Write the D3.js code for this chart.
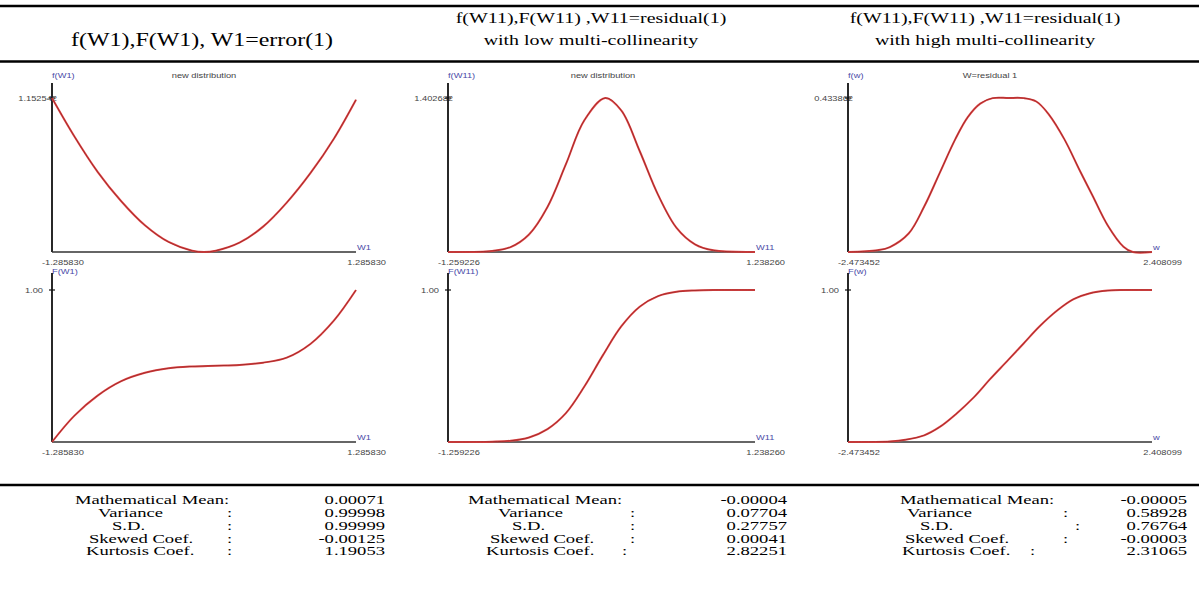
<!DOCTYPE html>
<html>
<head>
<meta charset="utf-8">
<script src="https://cdn.jsdelivr.net/npm/d3@7"></script>
<style>
  body { margin: 0; background: #fff; }
  svg { display: block; }
</style>
</head>
<body>
<svg id="chart" width="1199" height="593"></svg>
<script>
// data
const headerLines = [
  ['f(W1),F(W1), W1=error(1)'],
  ['f(W11),F(W11) ,W11=residual(1)', 'with low multi-collinearity'],
  ['f(W11),F(W11) ,W11=residual(1)', 'with high multi-collinearity']
];
const titles = ['new distribution', 'new distribution', 'W=residual 1'];
const densityNames = ['f(W1)', 'f(W11)', 'f(w)'];
const cdfNames = ['F(W1)', 'F(W11)', 'F(w)'];
const varNames = ['W1', 'W11', 'w'];
const xMin = [-1.285830, -1.259226, -2.473452];
const xMax = [1.285830, 1.238260, 2.408099];
const xMinLabels = ['-1.285830', '-1.259226', '-2.473452'];
const xMaxLabels = ['1.285830', '1.238260', '2.408099'];
const fTop = [1.152542, 1.402682, 0.433862];
const fTopLabels = ['1.152542', '1.402682', '0.433862'];
const cdfTop = 1;
const cdfTopLabel = '1.00';

// density curves f
const f1X = [-1.28583, -1.1, -0.9, -0.7, -0.5, -0.3, -0.1, 0, 0.1, 0.3, 0.5, 0.7, 0.9, 1.1, 1.28583];
const f1Y = [1.1525, 0.87, 0.60, 0.38, 0.20, 0.075, 0.01, 0, 0.01, 0.07, 0.19, 0.37, 0.59, 0.85, 1.14];
const f2X = [-1.259226, -0.9, -0.75, -0.6, -0.45, -0.3, -0.15, 0.02, 0.15, 0.3, 0.45, 0.6, 0.75, 0.9, 1.23826];
const f2Y = [0, 0.01, 0.045, 0.16, 0.41, 0.80, 1.20, 1.4027, 1.29, 0.92, 0.52, 0.22, 0.07, 0.015, 0];
const f3X = [-2.473452, -2.0, -1.8, -1.5, -1.25, -1.0, -0.75, -0.55, -0.35, -0.15, 0.1, 0.35, 0.55, 0.75, 1.0, 1.25, 1.45, 1.7, 1.95, 2.1, 2.408099];
const f3Y = [0, 0.005, 0.014, 0.052, 0.128, 0.223, 0.318, 0.38, 0.418, 0.4335, 0.4339, 0.4335, 0.424, 0.388, 0.318, 0.229, 0.16, 0.074, 0.015, 0, 0];

// cumulative curves F
const F1X = [-1.28583, -1.1, -0.9, -0.7, -0.5, -0.3, -0.1, 0.1, 0.3, 0.5, 0.7, 0.9, 1.1, 1.28583];
const F1Y = [0, 0.17, 0.305, 0.40, 0.455, 0.485, 0.497, 0.502, 0.507, 0.522, 0.555, 0.645, 0.80, 1.0];
const F2X = [-1.259226, -0.9, -0.75, -0.6, -0.45, -0.3, -0.15, 0, 0.15, 0.3, 0.45, 0.6, 0.75, 0.9, 1.23826];
const F2Y = [0, 0.002, 0.008, 0.03, 0.085, 0.19, 0.365, 0.57, 0.76, 0.89, 0.96, 0.988, 0.997, 1.0, 1.0];
const F3X = [-2.473452, -1.8, -1.55, -1.25, -1.0, -0.75, -0.45, -0.2, 0.1, 0.35, 0.6, 0.9, 1.15, 1.4, 1.7, 1.95, 2.408099];
const F3Y = [0, 0.004, 0.015, 0.044, 0.099, 0.18, 0.295, 0.41, 0.54, 0.65, 0.76, 0.87, 0.94, 0.977, 0.996, 1.0, 1.0];

// statistics
const statNames = ['Mathematical Mean:', 'Variance', 'S.D.', 'Skewed Coef.', 'Kurtosis Coef.'];
const stats1 = ['0.00071', '0.99998', '0.99999', '-0.00125', '1.19053'];
const stats2 = ['-0.00004', '0.07704', '0.27757', '0.00041', '2.82251'];
const stats3 = ['-0.00005', '0.58928', '0.76764', '-0.00003', '2.31065'];

const fX = [f1X, f2X, f3X], fY = [f1Y, f2Y, f3Y];
const FX = [F1X, F2X, F3X], FY = [F1Y, F2Y, F3Y];
const stats = [stats1, stats2, stats3];

// layout
const svg = d3.select('#chart');
const SX = 1.33; // the picture is stretched sideways
const SERIF = '"Liberation Serif", "Times New Roman", serif';
const SANS = '"Liberation Sans", Arial, sans-serif';
const cols = [
  { ax: 52, end: 356, title: 204, head: 202 },
  { ax: 448, end: 755, title: 603, head: 591 },
  { ax: 848, end: 1152, title: 990, head: 985 }
];
const rows = [
  { top: 83, val: 98, base: 252 },
  { top: 273, val: 290, base: 442 }
];
const labelStarts = [[75, 98, 112, 89, 86], [468, 498, 512, 490, 486], [900, 907, 920, 905, 902]];
const colonX = [[0, 227, 227, 227, 227], [0, 630, 630, 630, 622], [0, 1063, 1075, 1063, 1030]];
const valueEnd = [385, 787, 1187];
const rowBase = [504, 517, 530, 542.5, 555];

function txt(x, y, s, size, anchor, fill, family, sx) {
  svg.append('text')
    .attr('transform', `translate(${x},${y}) scale(${sx || SX},1)`)
    .attr('text-anchor', anchor)
    .style('font-family', family)
    .style('font-size', size + 'px')
    .style('fill', fill)
    .text(s);
}

// rules
[6, 61.5, 485].forEach(y => {
  svg.append('line')
    .attr('x1', 0).attr('x2', 1199)
    .attr('y1', y).attr('y2', y)
    .style('stroke', '#000')
    .style('stroke-width', 2.5);
});

// headers
headerLines.forEach((lines, c) => {
  if (lines.length === 1) {
    txt(cols[c].head, 46, lines[0], 18, 'middle', '#000', SERIF);
  } else {
    lines.forEach((l, i) => txt(cols[c].head, 23 + i * 22, l, 15, 'middle', '#000', SERIF));
  }
});

// panels
cols.forEach((col, c) => {
  const x = d3.scaleLinear().domain([xMin[c], xMax[c]]).range([col.ax, col.end]);

  rows.forEach((row, r) => {
    const top = r === 0 ? fTop[c] : cdfTop;
    const y = d3.scaleLinear().domain([0, top]).range([row.base, row.val]);
    const xs = r === 0 ? fX[c] : FX[c];
    const ys = r === 0 ? fY[c] : FY[c];

    // texts first, the axis covers part of the top label
    txt(col.ax, r === 0 ? 78 : 274, r === 0 ? densityNames[c] : cdfNames[c], 7, 'start', '#4a4aa8', SANS);
    if (r === 0) txt(col.title, 78, titles[c], 7, 'middle', '#444', SANS);
    if (r === 0) {
      txt(col.ax + 5, y(top) + 2.5, fTopLabels[c], 7, 'end', '#444', SANS);
    } else {
      txt(col.ax - 9, y(top) + 2.5, cdfTopLabel, 7, 'end', '#444', SANS);
    }
    txt(col.end + 1, row.base - 2, varNames[c], 7, 'start', '#4a4aa8', SANS);
    txt(col.ax - 10, row.base + 12.5, xMinLabels[c], 7, 'start', '#444', SANS);
    txt(col.end + 30, row.base + 12.5, xMaxLabels[c], 7, 'end', '#444', SANS);

    // axes
    svg.append('line')
      .attr('x1', col.ax).attr('x2', col.ax)
      .attr('y1', row.top).attr('y2', row.base)
      .style('stroke', '#111').style('stroke-width', 1.8);
    svg.append('line')
      .attr('x1', col.ax).attr('x2', x.range()[1])
      .attr('y1', row.base).attr('y2', row.base)
      .style('stroke', '#333').style('stroke-width', 1.5);
    svg.append('line')
      .attr('x1', col.ax - 3).attr('x2', col.ax + 3)
      .attr('y1', y(top)).attr('y2', y(top))
      .style('stroke', '#111').style('stroke-width', 1.2);

    // curve
    const pts = xs.map((d, i) => [d, ys[i]]);
    const line = d3.line()
      .x(d => x(d[0]))
      .y(d => y(d[1]))
      .curve(d3.curveCatmullRom.alpha(0.5));
    svg.append('path')
      .attr('d', line(pts))
      .style('fill', 'none')
      .style('stroke', '#e04848')
      .style('stroke-width', 2);
    svg.append('path')
      .attr('d', line(pts))
      .style('fill', 'none')
      .style('stroke', '#8e1f1f')
      .style('stroke-width', 0.7);
  });
});

// statistics table
stats.forEach((vals, c) => {
  statNames.forEach((name, i) => {
    txt(labelStarts[c][i], rowBase[i], name, 13, 'start', '#000', SERIF, 1.43);
    if (i > 0) txt(colonX[c][i], rowBase[i], ':', 13, 'start', '#000', SERIF, 1.43);
    txt(valueEnd[c], rowBase[i], vals[i], 13, 'end', '#000', SERIF, 1.43);
  });
});
</script>
</body>
</html>
